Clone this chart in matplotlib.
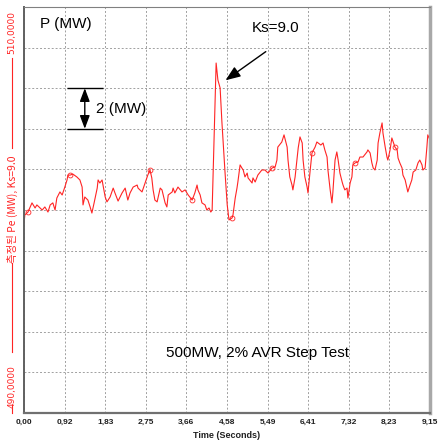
import numpy as np
import matplotlib
matplotlib.use('Agg')
import matplotlib.pyplot as plt

time_s = [0.00, 0.02, 0.09, 0.18, 0.25, 0.29, 0.41, 0.47, 0.54, 0.59, 0.65, 0.70, 0.74, 0.81, 0.86,
          0.92, 0.97, 0.99, 1.04, 1.10, 1.19, 1.26, 1.31, 1.33, 1.37, 1.44, 1.49, 1.53, 1.58, 1.65,
          1.67, 1.71, 1.76, 1.78, 1.83, 1.87, 1.94, 2.01, 2.05, 2.12, 2.21, 2.28, 2.34, 2.39, 2.46,
          2.55, 2.57, 2.66, 2.73, 2.79, 2.84, 2.88, 2.91, 2.95, 3.00, 3.02, 3.07, 3.11, 3.18, 3.22,
          3.25, 3.34, 3.36, 3.40, 3.47, 3.56, 3.63, 3.70, 3.79, 3.85, 3.90, 3.92, 3.97, 4.01, 4.08,
          4.12, 4.17, 4.21, 4.24, 4.33, 4.37, 4.42, 4.46, 4.53, 4.58, 4.62, 4.69, 4.71, 4.76, 4.80,
          4.82, 4.87, 4.91, 4.94, 4.98, 5.03, 5.05, 5.14, 5.16, 5.21, 5.27, 5.36, 5.43, 5.50, 5.59,
          5.66, 5.70, 5.72, 5.81, 5.86, 5.93, 5.95, 5.99, 6.04, 6.06, 6.11, 6.15, 6.18, 6.22, 6.27,
          6.29, 6.33, 6.38, 6.40, 6.45, 6.49, 6.56, 6.60, 6.63, 6.69, 6.74, 6.78, 6.83, 6.85, 6.90,
          6.94, 6.96, 7.01, 7.05, 7.08, 7.12, 7.17, 7.19, 7.23, 7.28, 7.30, 7.35, 7.39, 7.41, 7.46,
          7.53, 7.57, 7.64, 7.73, 7.75, 7.80, 7.84, 7.87, 7.91, 7.96, 7.98, 8.02, 8.07, 8.09, 8.14,
          8.18, 8.20, 8.25, 8.29, 8.36, 8.41, 8.43, 8.47, 8.52, 8.54, 8.59, 8.63, 8.65, 8.70, 8.74,
          8.77, 8.83, 8.88, 8.92, 8.97, 8.99, 9.04, 9.08, 9.10, 9.15]
power_mw = [499.36, 499.76, 499.90, 500.35, 500.10, 500.25, 500.00, 500.15, 499.90, 500.25, 500.35, 500.00, 500.59, 500.89, 500.74,
            501.13, 501.48, 501.72, 501.72, 501.77, 501.63, 501.48, 501.13, 500.25, 500.64, 500.49, 500.15, 499.85, 500.35, 501.08,
            501.48, 501.33, 501.48, 501.23, 500.64, 500.40, 500.64, 501.08, 500.84, 500.44, 500.84, 501.08, 500.49, 500.84, 501.13,
            501.23, 501.08, 500.89, 501.33, 501.72, 501.97, 501.58, 500.99, 500.49, 500.40, 500.59, 501.08, 500.99, 500.35, 500.15,
            500.74, 500.89, 501.08, 500.84, 501.13, 500.89, 500.99, 500.74, 500.49, 500.84, 501.23, 500.99, 500.74, 500.35, 500.25,
            500.00, 500.10, 499.90, 500.00, 507.24, 506.40, 506.01, 504.34, 501.87, 500.25, 499.51, 499.61, 499.76, 500.59, 501.08,
            501.38, 502.22, 502.07, 501.97, 501.63, 501.82, 501.58, 501.33, 501.58, 501.38, 501.72, 501.97, 501.97, 501.82, 502.07,
            502.12, 502.46, 503.10, 503.35, 503.70, 503.10, 502.46, 501.63, 501.23, 500.99, 501.63, 502.46, 503.06, 503.60, 503.30,
            502.46, 501.63, 501.13, 500.84, 501.97, 502.81, 503.10, 503.35, 503.30, 503.20, 503.30, 502.96, 502.61, 501.97, 500.99,
            500.35, 500.84, 502.46, 502.86, 502.46, 501.82, 501.38, 501.23, 500.99, 501.08, 500.59, 501.33, 501.63, 502.22, 502.32,
            502.37, 502.61, 502.61, 502.86, 502.96, 502.81, 502.32, 502.07, 501.97, 502.46, 503.30, 503.79, 504.29, 503.79, 503.10,
            502.61, 502.46, 502.96, 503.55, 503.10, 502.96, 502.56, 502.32, 502.07, 501.72, 501.48, 501.08, 500.89, 501.23, 501.48,
            501.87, 501.97, 502.32, 502.46, 502.22, 501.97, 502.07, 503.10, 503.70, 503.45]

# small circle markers along the trace
marker_times = [0.11, 1.04, 2.86, 3.79, 4.69, 5.61, 6.51, 7.44, 8.36]

x_ticks = [0.00, 0.92, 1.83, 2.75, 3.66, 4.58, 5.49, 6.41, 7.32, 8.23, 9.15]
x_tick_labels = ['0,00', '0,92', '1,83', '2,75', '3,66', '4,58', '5,49', '6,41', '7,32', '8,23', '9,15']
y_min, y_max = 490.0, 510.0

red = '#ff2424'
plt.rcParams['font.family'] = ['Liberation Sans', 'DejaVu Sans']

fig = plt.figure(figsize=(4.39, 4.41), dpi=100)
ax = fig.add_axes([24 / 439, 1 - 413 / 441, 406 / 439, 406 / 441])

t = np.array(time_s)
p = np.array(power_mw)
mark_idx = [int(np.argmin(np.abs(t - m))) for m in marker_times]
ax.plot(t, p, color=red, lw=0.8, marker='o', markersize=3.5, markerfacecolor='none',
        markeredgecolor=red, markeredgewidth=0.6, markevery=mark_idx)

ax.set_xlim(x_ticks[0], x_ticks[-1])
ax.set_ylim(y_min, y_max)
ax.set_xticks(x_ticks)
ax.set_xticklabels(x_tick_labels)
ax.set_yticks(np.linspace(y_min, y_max, 11))
ax.set_yticklabels([])
ax.tick_params(axis='both', length=0)
ax.tick_params(axis='x', pad=4, labelsize=6, labelcolor='#202020')
for lbl in ax.get_xticklabels():
    lbl.set_fontweight('bold')
ax.grid(True, color='#a0a0a0', linestyle=(0, (2, 2)), lw=0.7)

ax.spines['left'].set_color('#606060')
ax.spines['left'].set_linewidth(1.4)
ax.spines['bottom'].set_color('#707070')
ax.spines['bottom'].set_linewidth(1.6)
ax.spines['right'].set_color('#a8a8a8')
ax.spines['right'].set_linewidth(2.5)
ax.spines['top'].set_color('#808080')
ax.spines['top'].set_linewidth(0.8)

ax.set_xlabel('Time (Seconds)', fontsize=6.5, fontweight='bold', labelpad=4, color='#202020')

# rotated red axis caption on the left
lx = -0.0296
lab_kw = dict(transform=ax.transAxes, rotation=90, ha='center', va='center', color=red,
              clip_on=False)
ax.text(lx, 0.938, '510,0000', family=['DejaVu Sans'], fontsize=6.5, **lab_kw)
ax.text(lx, 0.502, '측정된 Pe (MW), Ks=9.0', family=['Noto Sans CJK KR', 'DejaVu Sans'],
        fontsize=7.5, **lab_kw)
ax.text(lx, 0.064, '490,0000', family=['DejaVu Sans'], fontsize=6.5, **lab_kw)
ax.plot([lx, lx], [0.653, 0.874], transform=ax.transAxes, color=red, lw=0.8, clip_on=False)
ax.plot([lx, lx], [0.150, 0.369], transform=ax.transAxes, color=red, lw=0.8, clip_on=False)
ax.plot([lx, lx], [0.0, 0.02], transform=ax.transAxes, color=red, lw=0.8, clip_on=False)

# annotations
ax.text(0.36, 509.16, 'P (MW)', fontsize=11, va='center', ha='left')
ax.text(5.68, 508.97, 'Ks=9.0', fontsize=11, va='center', ha='center')
ax.annotate('', xy=(4.49, 506.31), xytext=(5.50, 507.88),
            arrowprops=dict(arrowstyle='-|>,head_length=0.9,head_width=0.35', color='black', lw=1.0))
ax.text(3.20, 492.96, '500MW, 2% AVR Step Test', fontsize=11, va='center', ha='left')

# 2 MW scale marker
ax.hlines([506.0, 504.0], 0.97, 1.78, color='black', lw=1.0)
ax.annotate('', xy=(1.37, 504.0), xytext=(1.37, 506.0),
            arrowprops=dict(arrowstyle='<|-|>,head_length=0.8,head_width=0.3', color='black', lw=1.0,
                            shrinkA=0, shrinkB=0))
ax.text(1.62, 505.0, '2 (MW)', fontsize=11, va='center', ha='left')

fig.savefig('out.png', dpi=100)
